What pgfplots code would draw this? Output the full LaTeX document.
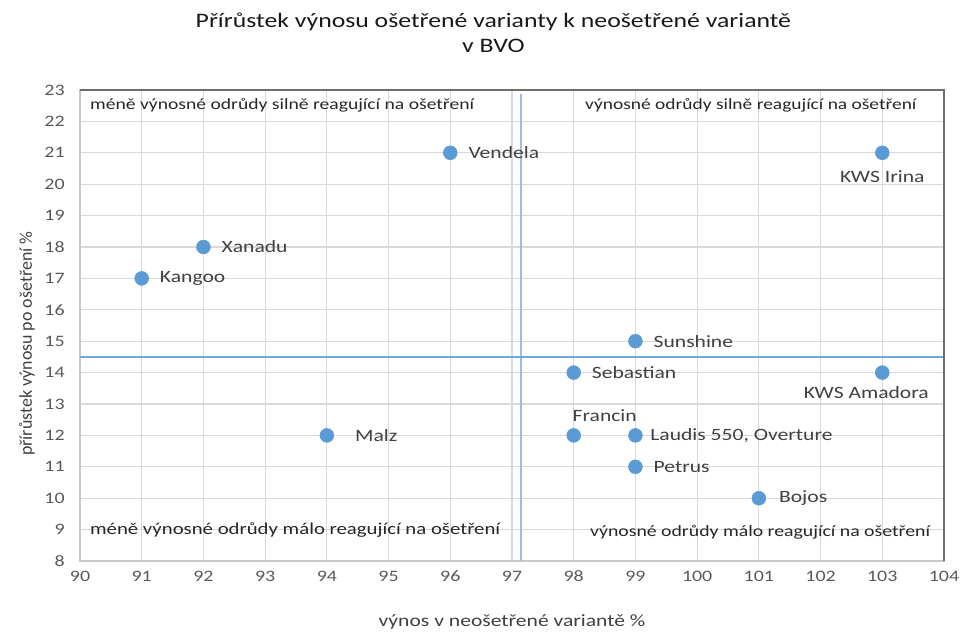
\documentclass[border=0pt]{standalone}
\usepackage{fontspec}
\setmainfont{Carlito}
\newfontfamily\wide{Carlito}[FakeStretch=1.25]
\usepackage{pgfplots}
\pgfplotsset{compat=1.18}
\definecolor{ptblue}{RGB}{91,155,213}
\definecolor{vlblue}{RGB}{150,192,232}
\definecolor{hlblue}{RGB}{110,168,222}
\definecolor{gridgray}{RGB}{217,217,217}
\definecolor{axisgray}{RGB}{200,200,200}
\definecolor{framegray}{RGB}{110,110,110}
\definecolor{ticktext}{RGB}{89,89,89}
\definecolor{lbltext}{RGB}{64,64,64}
\begin{document}
\begin{tikzpicture}
\path (-60bp,-52.5bp) rectangle (663.75bp,420.75bp);
\begin{axis}[
  at={(0,0)}, anchor=south west,
  scale only axis, width=648bp, height=353.25bp,
  xmin=90, xmax=104, ymin=8, ymax=23,
  xtick={90,91,...,104}, ytick={8,9,...,23},
  grid=major, major grid style={draw=gridgray, line width=0.8bp},
  axis line style={draw=axisgray, line width=1bp},
  tick style={draw=none},
  /pgf/number format/assume math mode=true,
  tick label style={font=\wide\fontsize{12}{15}\selectfont, text=ticktext},
  xticklabel style={yshift=-4bp},
  yticklabel style={xshift=-8bp},
  clip=false,
]
\addplot[vlblue, line width=1.6bp] coordinates {(97.15,8) (97.15,22.87)};
\addplot[hlblue, line width=0.9bp] coordinates {(90,14.5) (104,14.5)};
\addplot[only marks, mark=*, mark size=5.2bp, color=ptblue, mark options={solid, fill=ptblue, draw=ptblue}] coordinates {
(96,21) (103,21) (92,18) (91,17) (99,15) (98,14) (103,14) (94,12) (98,12) (99,12) (99,11) (101,10)
};
\draw[framegray, line width=1.2bp] (rel axis cs:0,1) -- (rel axis cs:1,1) -- (rel axis cs:1,0);
\begin{scope}[every node/.style={font=\wide\fontsize{13}{14}\selectfont, text=lbltext, inner sep=0pt}]
\node[anchor=west] at (axis cs:96,21) [xshift=13.5bp] {Vendela};
\node[anchor=north] at (axis cs:103,21) [yshift=-13bp] {KWS Irina};
\node[anchor=west] at (axis cs:92,18) [xshift=13.5bp] {Xanadu};
\node[anchor=west] at (axis cs:91,17) [xshift=13.5bp] {Kangoo};
\node[anchor=west] at (axis cs:99,15) [xshift=13.5bp] {Sunshine};
\node[anchor=west] at (axis cs:98,14) [xshift=13.5bp] {Sebastian};
\node[anchor=north] at (axis cs:103,14) [xshift=-12bp, yshift=-10bp] {KWS Amadora};
\node[anchor=west] at (axis cs:94,12) [xshift=21bp] {Malz};
\node[anchor=south west] at (axis cs:98,12) [xshift=-1bp, yshift=10bp] {Francin};
\node[anchor=west] at (axis cs:99,12) [xshift=11bp] {Laudis 550, Overture};
\node[anchor=west] at (axis cs:99,11) [xshift=13.5bp] {Petrus};
\node[anchor=west] at (axis cs:101,10) [xshift=15bp] {Bojos};
\end{scope}
\begin{scope}[every node/.style={text=black!85, inner sep=0pt}]
\node[anchor=west, font=\wide\fontsize{11.8}{13}\selectfont] at (axis cs:90.16,22.52) {méně výnosné odrůdy silně reagující na ošetření};
\node[font=\wide\fontsize{11.7}{13}\selectfont] at (axis cs:100.87,22.52) {výnosné odrůdy silně reagující na ošetření};
\node[anchor=west, font=\wide\fontsize{12.5}{13}\selectfont] at (axis cs:90.16,8.99) {méně výnosné odrůdy málo reagující na ošetření};
\node[font=\wide\fontsize{11.9}{13}\selectfont] at (axis cs:101.02,8.92) {výnosné odrůdy málo reagující na ošetření};
\end{scope}
\end{axis}
\node[align=center, font=\wide\fontsize{15.5}{19}\selectfont, text=black!90] at (310bp,396bp) {Přírůstek výnosu ošetřené varianty k neošetřené variantě\\v BVO};
\node[font=\wide\fontsize{13}{15}\selectfont, text=lbltext] at (324bp,-45.75bp) {výnos v neošetřené variantě \%};
\node[rotate=90, font=\fontsize{13.5}{15}\selectfont, text=lbltext] at (-39.75bp,163bp) {přírůstek výnosu po ošetření \%};
\end{tikzpicture}
\end{document}
